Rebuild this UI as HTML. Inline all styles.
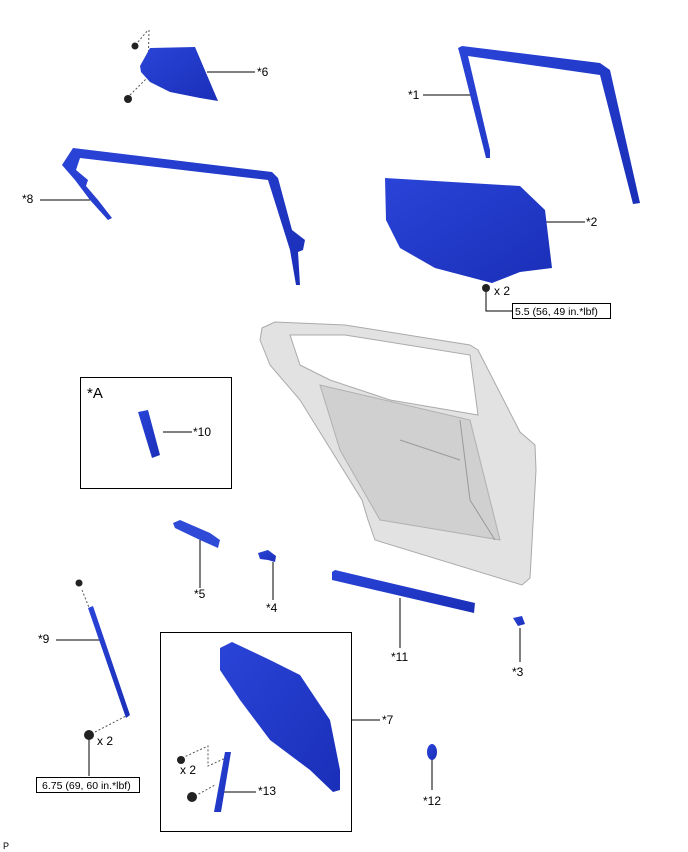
<!DOCTYPE html>
<html><head><style>
html,body{margin:0;padding:0;background:#fff;}
svg{display:block;}
text{font-family:"Liberation Sans",sans-serif;font-size:12px;fill:#000;}
.s{font-size:10.5px;}
</style></head><body>
<svg width="688" height="852" viewBox="0 0 688 852" xmlns="http://www.w3.org/2000/svg">
<defs>
<linearGradient id="b" x1="0" y1="0" x2="1" y2="1"><stop offset="0" stop-color="#2a44d8"/><stop offset="1" stop-color="#1a2fb8"/></linearGradient>
</defs>
<g stroke="#000" stroke-width="1" fill="none">
<line x1="207" y1="72" x2="255" y2="72"/>
<line x1="423" y1="95" x2="472" y2="95"/>
<line x1="40" y1="200" x2="90" y2="200"/>
<line x1="540" y1="222" x2="585" y2="222"/>
<polyline points="486,290 486,311 512,311"/>
<line x1="163" y1="432" x2="192" y2="432"/>
<line x1="200" y1="540" x2="200" y2="588"/>
<line x1="273" y1="562" x2="273" y2="600"/>
<line x1="400" y1="598" x2="400" y2="648"/>
<line x1="520" y1="628" x2="520" y2="662"/>
<line x1="56" y1="640" x2="102" y2="640"/>
<line x1="89" y1="738" x2="89" y2="776"/>
<line x1="352" y1="720" x2="380" y2="720"/>
<line x1="223" y1="792" x2="256" y2="792"/>
<line x1="432" y1="760" x2="432" y2="790"/>
<rect x="80.5" y="377.5" width="151" height="111"/>
<rect x="160.5" y="632.5" width="191" height="199"/>
<rect x="512.5" y="303.5" width="98" height="15"/>
<rect x="36.5" y="777.5" width="103" height="15"/>
</g>
<g stroke="#555" stroke-width="1" stroke-dasharray="2,2" fill="none">
<line x1="149" y1="30" x2="148" y2="70"/>
<line x1="138" y1="42" x2="148" y2="30"/>
<line x1="130" y1="95" x2="160" y2="65"/>
<line x1="82" y1="590" x2="90" y2="610"/>
<line x1="95" y1="732" x2="126" y2="716"/>
<polyline points="182,758 208,746 208,766 228,757"/>
<line x1="195" y1="796" x2="215" y2="785"/>
</g>
<path d="M262,328 L275,322 L345,325 L470,345 L478,350 L520,432 L535,445 L536,470 L530,578 L522,585 L375,540 L368,520 L362,500 L300,400 L270,365 L260,340 Z M290,335 L300,365 L330,380 L390,400 L478,415 L470,355 L345,335 Z" fill="#e2e2e2" stroke="#aaa" fill-rule="evenodd"/>
<path d="M320,385 L470,420 L500,540 L380,520 L340,450 Z" fill="#d0d0d0" stroke="#b0b0b0"/>
<path d="M460,420 L470,500 L495,540 M400,440 L460,460" stroke="#999" fill="none"/>
<path d="M140,66 L150,48 L195,47 L218,101 L200,98 L170,92 L150,82 L141,72 Z" fill="url(#b)"/>
<path d="M458,48 L462,46 L600,63 L610,70 L640,203 L633,204 L600,75 L468,56 L490,150 L490,158 L486,158 L460,55 Z" fill="url(#b)"/>
<path d="M62,165 L73,148 L272,172 L278,178 L292,230 L305,240 L303,250 L298,252 L300,285 L296,285 L290,250 L268,180 L80,158 L76,170 L88,180 L86,186 L98,200 L112,218 L108,220 L90,200 L75,180 Z" fill="url(#b)"/>
<path d="M385,178 L520,186 L545,210 L552,268 L520,272 L492,283 L435,268 L400,248 L386,220 Z" fill="url(#b)"/>
<path d="M138,412 L148,410 L160,455 L152,458 Z" fill="url(#b)"/>
<path d="M173,523 L180,520 L210,533 L220,540 L218,548 L200,540 L175,528 Z" fill="#2e4ad6"/>
<path d="M258,553 L268,550 L276,556 L275,562 L268,560 L260,559 Z" fill="url(#b)"/>
<path d="M332,572 L335,570 L475,603 L474,613 L332,580 Z" fill="url(#b)"/>
<path d="M513,618 L522,616 L525,624 L518,626 Z" fill="url(#b)"/>
<path d="M88,608 L93,606 L130,715 L126,718 Z" fill="url(#b)"/>
<path d="M220,648 L232,642 L270,660 L300,675 L330,720 L340,770 L340,790 L333,792 L310,770 L270,740 L240,700 L220,670 Z" fill="url(#b)"/>
<path d="M225,752 L231,752 L221,812 L214,812 Z" fill="url(#b)"/>
<ellipse cx="432" cy="752" rx="5" ry="8" fill="url(#b)"/>
<g fill="#222">
<circle cx="135" cy="46" r="3.5"/><circle cx="128" cy="99" r="4"/>
<circle cx="486" cy="288" r="4"/>
<circle cx="79" cy="583" r="3.5"/>
<circle cx="89" cy="735" r="5"/>
<circle cx="181" cy="760" r="4"/><circle cx="192" cy="797" r="5"/>
</g>
<text x="257" y="76">*6</text>
<text x="408" y="99">*1</text>
<text x="22" y="203">*8</text>
<text x="586" y="226">*2</text>
<text x="494" y="295">x 2</text>
<text class="s" x="515" y="315">5.5 (56, 49 in.*lbf)</text>
<text x="87" y="398" style="font-size:15px">*A</text>
<text x="193" y="436">*10</text>
<text x="194" y="598">*5</text>
<text x="266" y="612">*4</text>
<text x="391" y="661">*11</text>
<text x="512" y="676">*3</text>
<text x="38" y="643">*9</text>
<text x="97" y="745">x 2</text>
<text class="s" x="42" y="789">6.75 (69, 60 in.*lbf)</text>
<text x="382" y="724">*7</text>
<text x="180" y="774">x 2</text>
<text x="258" y="795">*13</text>
<text x="423" y="805">*12</text>
<text x="3" y="849" style="font-size:9px">P</text>
</svg>
</body></html>
